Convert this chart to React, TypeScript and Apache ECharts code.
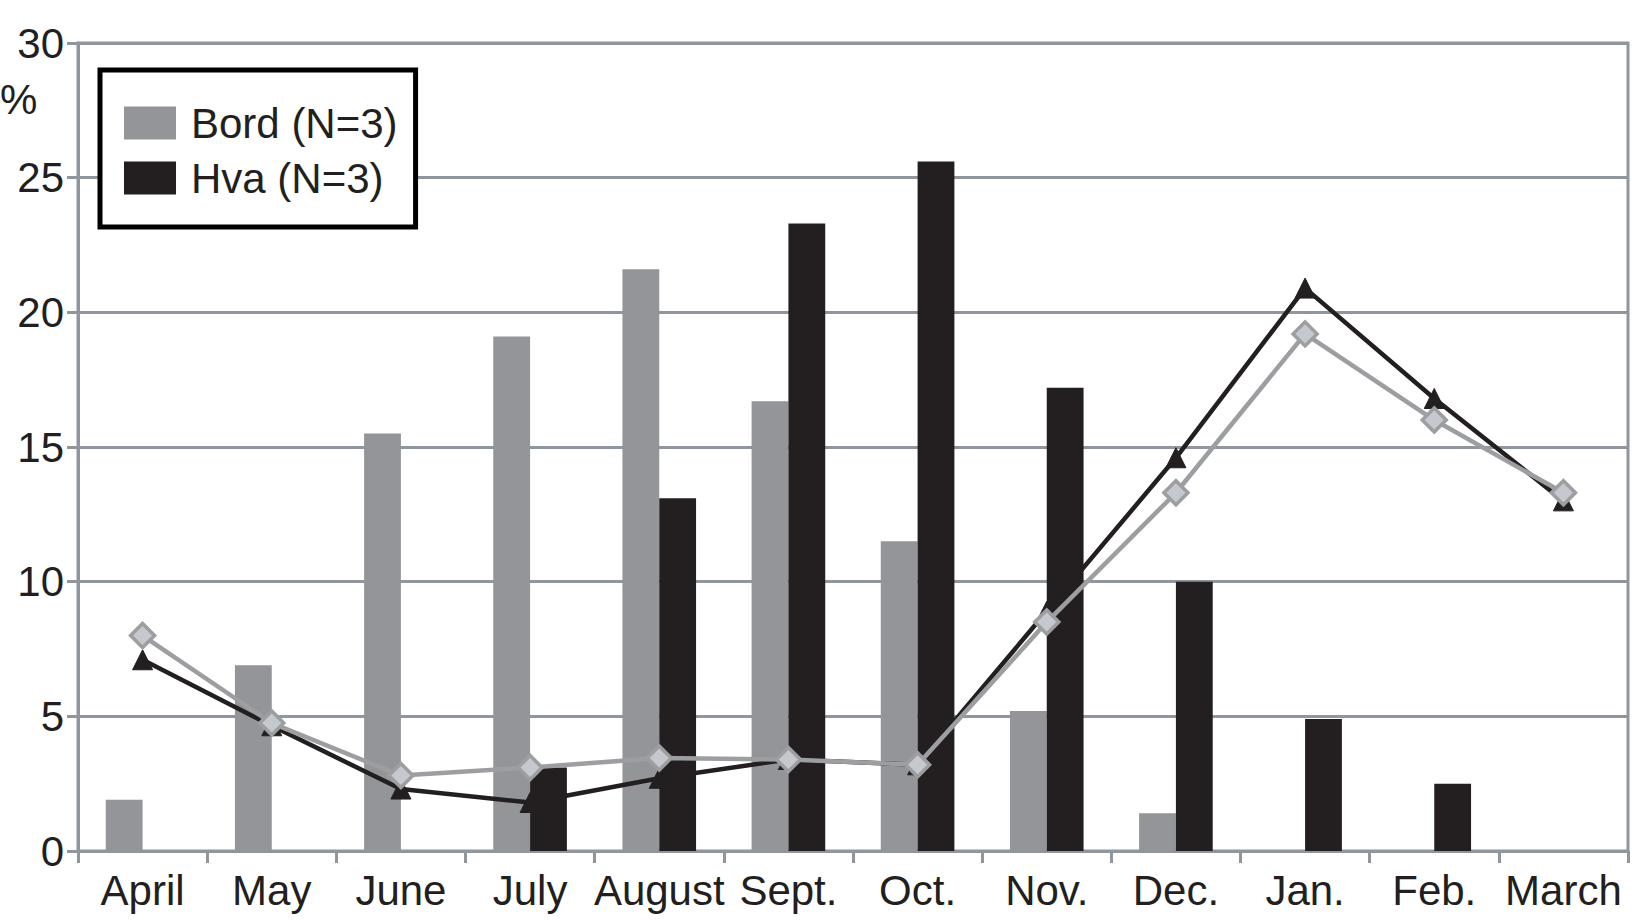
import React, { useEffect, useRef } from "react";
import * as echarts from "echarts";

const months = ["April", "May", "June", "July", "August", "Sept.", "Oct.", "Nov.", "Dec.", "Jan.", "Feb.", "March"];
const bordBars = [1.9, 6.9, 15.5, 19.1, 21.6, 16.7, 11.5, 5.2, 1.4, 0, 0, 0];
const hvaBars = [0, 0, 0, 3.1, 13.1, 23.3, 25.6, 17.2, 10.0, 4.9, 2.5, 0];
const bordLine = [8.0, 4.75, 2.8, 3.1, 3.45, 3.4, 3.2, 8.5, 13.3, 19.2, 16.0, 13.3];
const hvaLine = [7.1, 4.65, 2.3, 1.8, 2.7, 3.4, 3.2, 8.9, 14.6, 20.9, 16.8, 13.0];

const FONT = "Liberation Sans";
const FS = 42;
const TEXT = "#231f20";
const GRID = "#8f969d";
const GRAY = "#939598";
const BLACK = "#231f20";

export default function App() {
  const ref = useRef<HTMLDivElement>(null);
  useEffect(() => {
    if (!ref.current) return;
    const chart = echarts.init(ref.current, null, { renderer: "svg" });
    chart.setOption({
      animation: false,
      backgroundColor: "#ffffff",
      textStyle: { fontFamily: FONT, color: TEXT },
      grid: {
        left: 78,
        right: 4,
        top: 43,
        bottom: 69,
        show: true,
        borderColor: GRID,
        borderWidth: 3,
      },
      legend: {
        data: ["Bord (N=3)", "Hva (N=3)"],
        orient: "vertical",
        left: 100,
        top: 70,
        icon: "rect",
        itemWidth: 52,
        itemHeight: 33,
        itemGap: 13,
        padding: [32, 18, 28, 24],
        backgroundColor: "#ffffff",
        borderColor: "#000000",
        borderWidth: 5,
        textStyle: { fontFamily: FONT, fontSize: FS, color: TEXT, lineHeight: 33, padding: [4, 0, 0, 10] },
      },
      graphic: [
        {
          type: "text",
          left: 0,
          top: 78,
          style: { text: "%", fontFamily: FONT, fontSize: FS, fill: TEXT },
        },
      ],
      xAxis: {
        type: "category",
        data: months,
        boundaryGap: true,
        axisLine: { lineStyle: { color: GRID, width: 3 } },
        axisTick: { show: true, length: 12, lineStyle: { color: GRID, width: 3 } },
        axisLabel: { fontFamily: FONT, fontSize: FS, color: TEXT, margin: 18, interval: 0 },
      },
      yAxis: {
        type: "value",
        min: 0,
        max: 30,
        interval: 5,
        axisLine: { show: true, lineStyle: { color: GRID, width: 3 } },
        axisTick: { show: true, length: 11, lineStyle: { color: GRID, width: 3 } },
        axisLabel: { fontFamily: FONT, fontSize: FS, color: TEXT, margin: 14 },
        splitLine: { show: true, lineStyle: { color: GRID, width: 3 } },
      },
      series: [
        {
          name: "Bord (N=3)",
          type: "bar",
          data: bordBars,
          itemStyle: { color: GRAY },
          barGap: "0%",
          barCategoryGap: "43%",
          z: 2,
        },
        {
          name: "Hva (N=3)",
          type: "bar",
          data: hvaBars,
          itemStyle: { color: BLACK },
          barGap: "0%",
          barCategoryGap: "43%",
          z: 2,
        },
        {
          name: "Hva line",
          type: "line",
          data: hvaLine,
          symbol: "triangle",
          symbolSize: 20,
          lineStyle: { color: BLACK, width: 4.5 },
          itemStyle: { color: BLACK, borderColor: BLACK, borderWidth: 1 },
          z: 3,
        },
        {
          name: "Bord line",
          type: "line",
          data: bordLine,
          symbol: "diamond",
          symbolSize: 24,
          lineStyle: { color: "#9c9ea1", width: 4.5 },
          itemStyle: { color: "#c5c8cc", borderColor: "#9c9ea1", borderWidth: 3.5 },
          z: 4,
        },
      ],
    });
    return () => chart.dispose();
  }, []);
  return <div ref={ref} style={{ position: "fixed", left: 0, top: 0, width: 1632, height: 920 }} />;
}
